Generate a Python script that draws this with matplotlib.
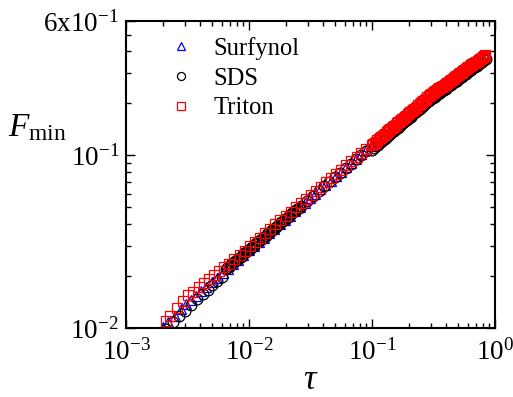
#plot_fmin_tau.py
import numpy as np
import matplotlib
matplotlib.use('Agg')
from matplotlib import pyplot as plt
from matplotlib.ticker import FixedLocator, NullFormatter

plt.rcParams['font.family'] = 'Liberation Serif'
plt.rcParams['mathtext.fontset'] = 'custom'
plt.rcParams['mathtext.rm'] = 'Liberation Serif'
plt.rcParams['mathtext.it'] = 'Liberation Serif:italic'

# Surfynol
tau_surf = [0.0020, 0.0022, 0.0025, 0.0028, 0.0031, 0.0034, 0.0037, 0.0041, 0.0045, 0.0050,
            0.0055, 0.0061, 0.0067, 0.0074, 0.0082, 0.0090, 0.0100, 0.0110, 0.0121, 0.0133,
            0.0146, 0.0161, 0.0177, 0.0195, 0.0215, 0.0237, 0.0260, 0.0286, 0.0315, 0.0346,
            0.0380, 0.0418, 0.0460, 0.0506, 0.0556, 0.0612, 0.0673, 0.0740, 0.0814, 0.0895,
            0.0985]
F_surf = [0.0102, 0.0108, 0.0118, 0.0128, 0.0137, 0.0146, 0.0154, 0.0164, 0.0173, 0.0185,
          0.0196, 0.0208, 0.0220, 0.0234, 0.0249, 0.0264, 0.0282, 0.0299, 0.0316, 0.0334,
          0.0354, 0.0375, 0.0398, 0.0422, 0.0448, 0.0475, 0.0503, 0.0533, 0.0566, 0.0600,
          0.0636, 0.0674, 0.0714, 0.0757, 0.0803, 0.0851, 0.0902, 0.0957, 0.1013, 0.1075,
          0.1140]

# SDS: early points, dense run, middle points, late run
tau_sds = [0.0021, 0.0024, 0.0027, 0.0030, 0.0034, 0.0038, 0.0042, 0.0046, 0.0050, 0.0055,
           0.0060,
           0.00650, 0.00666, 0.00683, 0.00700, 0.00718, 0.00735, 0.00754, 0.00773, 0.00792, 0.00812,
           0.00832, 0.00853, 0.00874, 0.00896, 0.00918, 0.00941, 0.00965, 0.00989, 0.01014, 0.01039,
           0.01065, 0.01092, 0.01119, 0.01147, 0.01176, 0.01205, 0.01235, 0.01266, 0.01298, 0.01330,
           0.01364, 0.01398, 0.01433, 0.01469, 0.01505, 0.01543, 0.01581, 0.01621, 0.01661, 0.01703,
           0.01746, 0.01789, 0.01834, 0.01880, 0.01927, 0.01975, 0.02024, 0.02075, 0.02127, 0.02180,
           0.02235, 0.02291, 0.02348, 0.02407, 0.02467, 0.02528, 0.02592, 0.02656,
           0.0295, 0.033, 0.037, 0.041, 0.045, 0.050, 0.055, 0.061, 0.067, 0.074,
           0.082, 0.090,
           0.1000, 0.1035, 0.1071, 0.1109, 0.1148, 0.1188, 0.1229, 0.1272, 0.1317, 0.1363,
           0.1411, 0.1460, 0.1511, 0.1564, 0.1619, 0.1675, 0.1734, 0.1795, 0.1857, 0.1922,
           0.1990, 0.2059, 0.2132, 0.2206, 0.2283, 0.2363, 0.2446, 0.2532, 0.2620, 0.2712,
           0.2807, 0.2905, 0.3007, 0.3112, 0.3221, 0.3334, 0.3450, 0.3571, 0.3696, 0.3825,
           0.3959, 0.4098, 0.4241, 0.4390, 0.4543, 0.4702, 0.4867, 0.5037, 0.5214, 0.5396,
           0.5585, 0.5780, 0.5983, 0.6192, 0.6409, 0.6633, 0.6866, 0.7106, 0.7355, 0.7612,
           0.7878, 0.8154, 0.8440]
F_sds = [0.0099, 0.0108, 0.0117, 0.0125, 0.0136, 0.0147, 0.0158, 0.0167, 0.0177, 0.0188,
         0.0198,
         0.02201, 0.02234, 0.02267, 0.02301, 0.02335, 0.02370, 0.02405, 0.02441, 0.02478, 0.02515,
         0.02552, 0.02590, 0.02629, 0.02668, 0.02708, 0.02748, 0.02789, 0.02831, 0.02873, 0.02916,
         0.02960, 0.03004, 0.03049, 0.03094, 0.03140, 0.03187, 0.03235, 0.03283, 0.03332, 0.03382,
         0.03432, 0.03483, 0.03535, 0.03588, 0.03642, 0.03696, 0.03751, 0.03807, 0.03864, 0.03922,
         0.03980, 0.04039, 0.04100, 0.04161, 0.04223, 0.04286, 0.04350, 0.04415, 0.04481, 0.04548,
         0.04616, 0.04685, 0.04755, 0.04826, 0.04898, 0.04971, 0.05045, 0.05120,
         0.0545, 0.0585, 0.0625, 0.0665, 0.0705, 0.0750, 0.0795, 0.0845, 0.0895, 0.0950,
         0.1010, 0.1065,
         0.1080, 0.1103, 0.1126, 0.1150, 0.1174, 0.1199, 0.1225, 0.1251, 0.1277, 0.1304,
         0.1332, 0.1360, 0.1389, 0.1418, 0.1448, 0.1479, 0.1510, 0.1542, 0.1575, 0.1608,
         0.1642, 0.1677, 0.1713, 0.1749, 0.1786, 0.1824, 0.1863, 0.1902, 0.1942, 0.1983,
         0.2025, 0.2068, 0.2112, 0.2150, 0.2189, 0.2228, 0.2268, 0.2309, 0.2351, 0.2393,
         0.2436, 0.2480, 0.2525, 0.2571, 0.2617, 0.2664, 0.2712, 0.2761, 0.2811, 0.2862,
         0.2914, 0.2967, 0.3021, 0.3076, 0.3131, 0.3188, 0.3245, 0.3304, 0.3364, 0.3425,
         0.3487, 0.3550, 0.3614]

# Triton: sparse early points, then a dense run
tau_tri = [0.0021, 0.0023, 0.0026, 0.0029, 0.0032, 0.0035, 0.0039, 0.0043, 0.0047, 0.0052,
           0.0057, 0.0063, 0.0069, 0.0076, 0.0084, 0.0092, 0.0101, 0.0112, 0.0123, 0.0135,
           0.0149, 0.0164, 0.0180, 0.0198, 0.0218, 0.0240, 0.0264, 0.0290, 0.0320, 0.0350,
           0.0385, 0.0425, 0.0465, 0.0510, 0.0560, 0.0620, 0.0680, 0.0750, 0.0820, 0.0900,
           0.1000, 0.1025, 0.1051, 0.1077, 0.1104, 0.1131, 0.1160, 0.1189, 0.1218, 0.1249,
           0.1280, 0.1312, 0.1345, 0.1379, 0.1413, 0.1448, 0.1485, 0.1522, 0.1560, 0.1599,
           0.1639, 0.1680, 0.1722, 0.1765, 0.1809, 0.1854, 0.1900, 0.1948, 0.1997, 0.2046,
           0.2098, 0.2150, 0.2204, 0.2259, 0.2315, 0.2373, 0.2433, 0.2493, 0.2556, 0.2620,
           0.2685, 0.2752, 0.2821, 0.2892, 0.2964, 0.3038, 0.3114, 0.3192, 0.3271, 0.3353,
           0.3437, 0.3523, 0.3611, 0.3701, 0.3794, 0.3889, 0.3986, 0.4086, 0.4188, 0.4292,
           0.4400, 0.4510, 0.4622, 0.4738, 0.4856, 0.4978, 0.5102, 0.5230, 0.5361, 0.5495,
           0.5632, 0.5773, 0.5917, 0.6065, 0.6217, 0.6372, 0.6532, 0.6695, 0.6862, 0.7034,
           0.7210, 0.7390, 0.7575, 0.7764, 0.7958, 0.8157, 0.8361]
F_tri = [0.0110, 0.0118, 0.0131, 0.0143, 0.0155, 0.0162, 0.0172, 0.0182, 0.0192, 0.0203,
         0.0213, 0.0225, 0.0236, 0.0250, 0.0265, 0.0279, 0.0298, 0.0316, 0.0334, 0.0354,
         0.0376, 0.0398, 0.0422, 0.0446, 0.0472, 0.0500, 0.0530, 0.0560, 0.0592, 0.0625,
         0.0660, 0.0700, 0.0738, 0.0780, 0.0825, 0.0875, 0.0925, 0.0980, 0.1035, 0.1090,
         0.1150, 0.1167, 0.1185, 0.1203, 0.1221, 0.1240, 0.1259, 0.1278, 0.1297, 0.1317,
         0.1337, 0.1357, 0.1378, 0.1399, 0.1420, 0.1442, 0.1464, 0.1486, 0.1508, 0.1531,
         0.1554, 0.1578, 0.1602, 0.1626, 0.1651, 0.1676, 0.1701, 0.1727, 0.1753, 0.1780,
         0.1807, 0.1834, 0.1862, 0.1890, 0.1919, 0.1948, 0.1978, 0.2008, 0.2038, 0.2069,
         0.2101, 0.2133, 0.2165, 0.2198, 0.2231, 0.2260, 0.2289, 0.2319, 0.2349, 0.2379,
         0.2410, 0.2441, 0.2473, 0.2505, 0.2537, 0.2570, 0.2603, 0.2637, 0.2671, 0.2705,
         0.2740, 0.2775, 0.2811, 0.2847, 0.2884, 0.2921, 0.2959, 0.2997, 0.3036, 0.3075,
         0.3115, 0.3155, 0.3196, 0.3237, 0.3279, 0.3321, 0.3364, 0.3407, 0.3451, 0.3496,
         0.3541, 0.3587, 0.3633, 0.3680, 0.3728, 0.3776, 0.3825]

xticks = [1e-3, 1e-2, 1e-1, 1e0]
xticklabels = [r'$10^{-3}$', r'$10^{-2}$', r'$10^{-1}$', r'$10^{0}$']
yticks = [1e-2, 1e-1, 6e-1]
yticklabels = [r'$10^{-2}$', r'$10^{-1}$', r'$6\mathrm{x}10^{-1}$']

fig = plt.figure(figsize=(5.13, 3.97), dpi=100)
ax = fig.add_axes([0.2456, 0.1738, 0.7194, 0.7732])

ms = 7.3
ax.plot(tau_surf, F_surf, ls='none', marker='^', ms=ms, mfc='none', mec='#0000ff', mew=0.9, label='Surfynol')
ax.plot(tau_sds, F_sds, ls='none', marker='o', ms=ms + 0.4, mfc='none', mec='black', mew=0.9, label='SDS')
ax.plot(tau_tri, F_tri, ls='none', marker='s', ms=ms, mfc='none', mec='#ff0000', mew=0.9, label='Triton')

ax.set_xscale('log')
ax.set_yscale('log')
ax.set_xlim(1e-3, 1e0)
ax.set_ylim(1e-2, 6e-1)

ax.xaxis.set_major_locator(FixedLocator(xticks))
ax.set_xticklabels(xticklabels)
ax.yaxis.set_major_locator(FixedLocator(yticks))
ax.set_yticklabels(yticklabels)
ax.xaxis.set_minor_locator(FixedLocator([m * 10.0 ** e for e in (-3, -2, -1) for m in range(2, 10)]))
ax.yaxis.set_minor_locator(FixedLocator([m * 10.0 ** e for e in (-2, -1) for m in range(2, 10) if m * 10.0 ** e < 0.6]))
ax.xaxis.set_minor_formatter(NullFormatter())
ax.yaxis.set_minor_formatter(NullFormatter())

ax.tick_params(which='both', direction='in', top=True, right=True, labelsize=19.5, width=1.0)
ax.tick_params(which='major', length=6.5)
ax.tick_params(which='minor', length=3.5)
ax.tick_params(axis='x', which='major', pad=8)
ax.tick_params(axis='y', which='major', pad=5)
for sp in ax.spines.values():
    sp.set_linewidth(1.5)

ax.set_xlabel(r'$\tau$', fontsize=25, labelpad=-1)
fig.text(37 / 513, 1 - 128 / 397, r'$F_{\mathrm{min}}$', fontsize=24, ha='center', va='center')

ax.legend(loc='upper left', bbox_to_anchor=(0.057, 1.02), frameon=False, fontsize=17.7,
          markerscale=0.75, handlelength=1.0, handletextpad=0.8, labelspacing=0.3)

fig.savefig('out.png', dpi=100)
